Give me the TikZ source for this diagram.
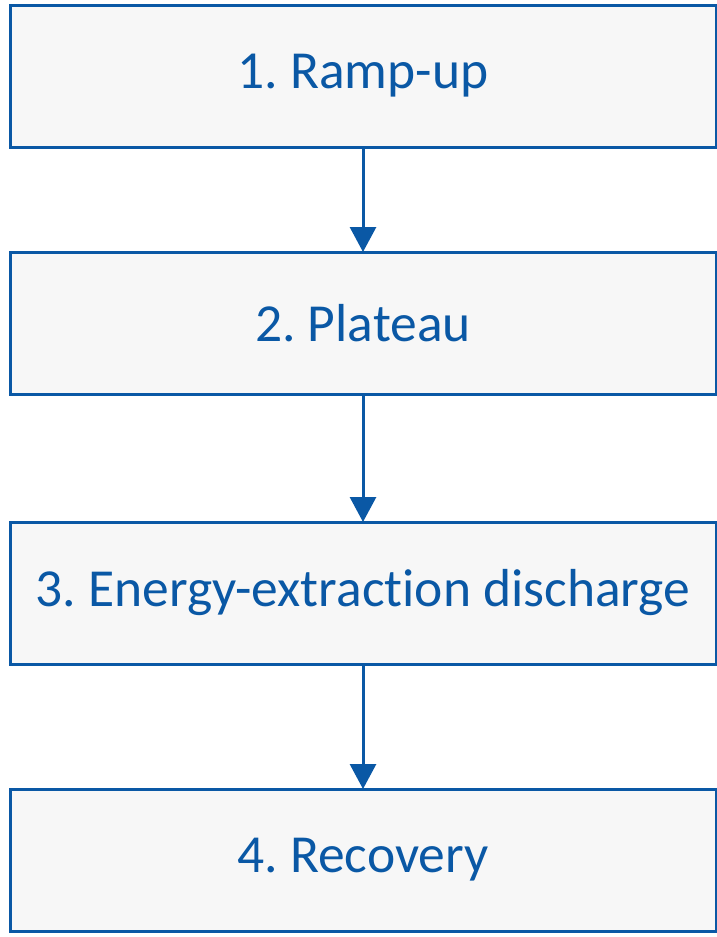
\documentclass[tikz,border=0pt]{standalone}
\usepackage{fontspec}
\setmainfont[Ligatures=NoCommon]{Carlito}
\frenchspacing
\usetikzlibrary{arrows.meta,positioning}
\definecolor{stageblue}{HTML}{0A58A5}
\definecolor{stagefill}{HTML}{F7F7F7}

\begin{document}
\begin{tikzpicture}[
		stage/.style={draw=stageblue, line width=3pt, fill=stagefill, text=stageblue, outer sep=0pt,
			minimum height=142pt, minimum width=706pt, font=\fontsize{53.5}{58}\selectfont},
		arrow/.style={draw=stageblue, line width=3pt, -{Triangle[length=25pt,width=26pt]}},
	]
		\useasboundingbox (0,0) rectangle (717pt,-937pt);
		\node[stage] (ramp) at (363pt,-76pt) {1. Ramp-up};
		\node[stage, below=105pt of ramp] (plat) {2. Plateau};
		\node[stage, below=128pt of plat] (disch) {3. Energy-extraction discharge};
		\node[stage, below=125pt of disch] (recov) {4. Recovery};
		
		\draw[arrow] (ramp) -- (plat);
		\draw[arrow] (plat) -- (disch);
		\draw[arrow] (disch) -- (recov);
	\end{tikzpicture}
\end{document}
